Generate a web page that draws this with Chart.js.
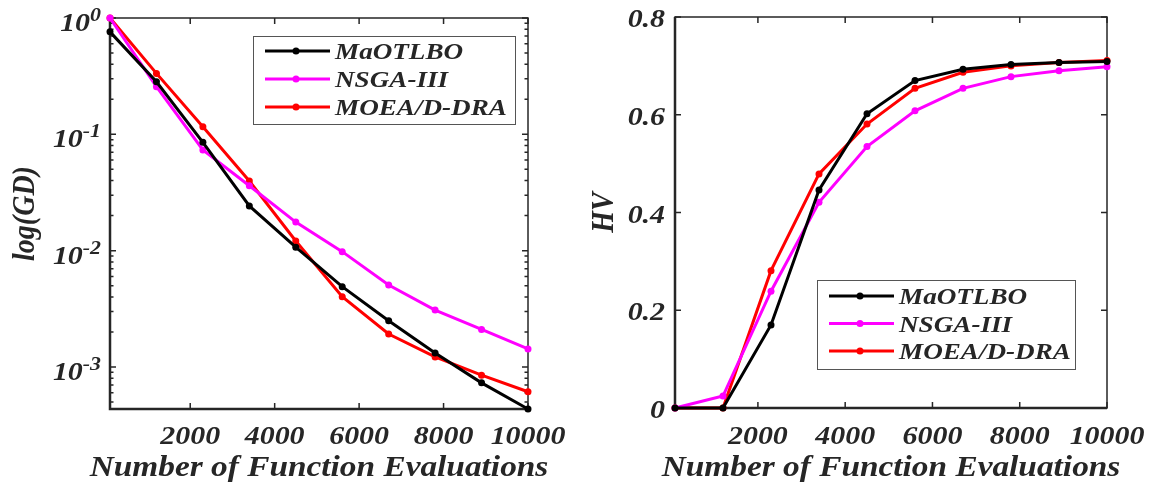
<!DOCTYPE html>
<html>
<head>
<meta charset="utf-8">
<script src="https://cdn.jsdelivr.net/npm/chart.js@4"></script>
<style>
  body { margin: 0; background: #fff; }
  #wrap { position: relative; width: 1149px; height: 484px; }
  .pane { position: absolute; top: 0; height: 484px; }
  #probe { position: absolute; left: 0; top: 0; font: italic bold 20px "Times New Roman", "Liberation Serif", Times; color: #fff; }
</style>
</head>
<body>
<span id="probe">MaOTLBO 0123456789</span>
<div id="wrap">
  <div class="pane" style="left:0;width:575px"><canvas id="gd"></canvas></div>
  <div class="pane" style="left:575px;width:574px"><canvas id="hv"></canvas></div>
</div>
<script>
// data
const evals = [100, 1200, 2300, 3400, 4500, 5600, 6700, 7800, 8900, 10000];
const names = ["MaOTLBO", "NSGA-III", "MOEA/D-DRA"];
const colors = ["#000000", "#ff00ff", "#ff0000"];

const gdMaOTLBO = [0.76, 0.283, 0.0853, 0.0242, 0.0107, 0.0049, 0.0025, 0.00132, 0.00073, 0.000435];
const gdNSGA3 = [1.0, 0.257, 0.0733, 0.0361, 0.0176, 0.0098, 0.00506, 0.00308, 0.0021, 0.00143];
const gdMOEAD = [1.0, 0.334, 0.116, 0.0397, 0.0121, 0.00401, 0.00192, 0.00122, 0.00085, 0.000612];

const hvMaOTLBO = [0, 0, 0.170, 0.446, 0.602, 0.670, 0.693, 0.703, 0.707, 0.709];
const hvNSGA3 = [0, 0.0245, 0.239, 0.421, 0.535, 0.608, 0.654, 0.678, 0.690, 0.698];
const hvMOEAD = [0, 0, 0.281, 0.479, 0.581, 0.654, 0.687, 0.700, 0.707, 0.711];

const xTicks = [2000, 4000, 6000, 8000, 10000];
const gdTickExps = [0, -1, -2, -3];
const hvTicks = [0, 0.2, 0.4, 0.6, 0.8];
const hvTickLabels = ["0", "0.2", "0.4", "0.6", "0.8"];

const FONT = '"Times New Roman", "Liberation Serif", Times';
const SX = 1.15; // the figure is slightly stretched sideways
const AX = "#262626";

function txt(ctx, s, x, y, size, align, sx, sy) {
    ctx.save();
    ctx.font = "italic bold " + size + "px " + FONT;
    ctx.fillStyle = AX;
    ctx.textBaseline = "alphabetic";
    ctx.textAlign = align || "left";
    ctx.translate(x, y);
    ctx.scale(sx || SX, sy || 1);
    ctx.fillText(s, 0, 0);
    ctx.restore();
}
function txtWidth(ctx, s, size) {
    ctx.save();
    ctx.font = "italic bold " + size + "px " + FONT;
    const w = ctx.measureText(s).width * SX;
    ctx.restore();
    return w;
}

function makeSets(series) {
    return series.map((vals, i) => ({
        label: names[i],
        data: evals.map((x, j) => ({ x: x, y: vals[j] })),
        borderColor: colors[i],
        backgroundColor: colors[i],
        borderWidth: 3,
        pointRadius: 3.5,
        pointHoverRadius: 3.5,
        pointBorderWidth: 0,
        tension: 0,
        clip: false,
    }));
}

// axes box, inward ticks, labels, titles and legend
const decor = {
    id: "decor",
    beforeDatasetsDraw(chart, args, o) {
        const ctx = chart.ctx, a = chart.chartArea;
        const xs = chart.scales.x, ys = chart.scales.y;
        ctx.save();
        ctx.strokeStyle = AX;
        ctx.lineWidth = 1.5;
        ctx.strokeRect(a.left, a.top, a.right - a.left, a.bottom - a.top);
        ctx.lineWidth = 2.5;
        ctx.beginPath();
        ctx.moveTo(a.left, a.top); ctx.lineTo(a.left, a.bottom); ctx.lineTo(a.right, a.bottom);
        ctx.stroke();
        ctx.lineWidth = 1.5;
        ctx.beginPath();
        xTicks.forEach(v => {
            const px = xs.getPixelForValue(v);
            ctx.moveTo(px, a.bottom); ctx.lineTo(px, a.bottom - 6);
            ctx.moveTo(px, a.top); ctx.lineTo(px, a.top + 6);
        });
        o.yTicks.forEach(t => {
            const py = ys.getPixelForValue(t.v);
            const len = t.minor ? 3.5 : 6;
            ctx.moveTo(a.left, py); ctx.lineTo(a.left + len, py);
            ctx.moveTo(a.right, py); ctx.lineTo(a.right - len, py);
        });
        ctx.stroke();
        ctx.restore();
    },
    afterDraw(chart, args, o) {
        const ctx = chart.ctx, a = chart.chartArea;
        const xs = chart.scales.x, ys = chart.scales.y;
        xTicks.forEach(v => txt(ctx, String(v), xs.getPixelForValue(v), 444, 26, "center"));
        o.yLabels(ctx, ys, a);
        txt(ctx, "Number of Function Evaluations", (a.left + a.right) / 2, 476, 29, "center");
        ctx.save();
        ctx.translate(o.yTitleX, (a.top + a.bottom) / 2);
        ctx.rotate(-Math.PI / 2);
        txt(ctx, o.yTitle, 0, 0, 28, "center", 1, SX);
        ctx.restore();
        // legend
        const L = o.legend;
        ctx.save();
        ctx.fillStyle = "#fff";
        ctx.fillRect(L.x, L.y, L.w, L.h);
        ctx.strokeStyle = "#555";
        ctx.lineWidth = 1;
        ctx.strokeRect(L.x + 0.5, L.y + 0.5, L.w, L.h);
        chart.data.datasets.forEach((d, i) => {
            const ry = L.y + L.row0 + i * L.dy;
            ctx.strokeStyle = d.borderColor;
            ctx.lineWidth = 3;
            ctx.beginPath();
            ctx.moveTo(L.x + 12, ry); ctx.lineTo(L.x + 77, ry);
            ctx.stroke();
            ctx.fillStyle = d.borderColor;
            ctx.beginPath();
            ctx.arc(L.x + 43, ry, 3.5, 0, Math.PI * 2);
            ctx.fill();
            txt(ctx, d.label, L.x + 82, ry + 8, 23.6, "left");
        });
        ctx.restore();
    },
};

const gdMin = 4.35e-4;
const gdYTicks = [];
for (let e = -4; e <= 0; e++) {
    for (let k = 1; k <= 9; k++) {
        const v = k * Math.pow(10, e);
        if (v >= gdMin && v <= 1.0000001) gdYTicks.push({ v: v, minor: k !== 1 });
    }
}

function baseOpts(xMin, xMax, yScale, pad, decorOpts) {
    return {
        responsive: true,
        maintainAspectRatio: false,
        animation: false,
        layout: { padding: pad },
        scales: {
            x: { type: "linear", min: xMin, max: xMax, display: false },
            y: Object.assign({ display: false }, yScale),
        },
        plugins: { legend: { display: false }, tooltip: { enabled: false }, decor: decorOpts },
    };
}

function build() {
    new Chart(document.getElementById("gd"), {
        type: "line",
        data: { datasets: makeSets([gdMaOTLBO, gdNSGA3, gdMOEAD]) },
        options: baseOpts(100, 10000, { type: "logarithmic", min: gdMin, max: 1 },
            { left: 110, right: 47, top: 18, bottom: 75 },
            {
                yTicks: gdYTicks,
                yTitle: "log(GD)",
                yTitleX: 34,
                yLabels(ctx, ys, a) {
                    gdTickExps.forEach(e => {
                        const py = ys.getPixelForValue(Math.pow(10, e));
                        const ex = String(e);
                        const we = txtWidth(ctx, ex, 19);
                        const right = 101;
                        txt(ctx, ex, right, py + 3, 19, "right");
                        txt(ctx, "10", right - we, py + 13, 26, "right");
                    });
                },
                legend: { x: 253, y: 36, w: 262, h: 88, row0: 15, dy: 28 },
            }),
        plugins: [decor],
    });

    new Chart(document.getElementById("hv"), {
        type: "line",
        data: { datasets: makeSets([hvMaOTLBO, hvNSGA3, hvMOEAD]) },
        options: baseOpts(100, 10000, { type: "linear", min: 0, max: 0.8 },
            { left: 100, right: 42, top: 17, bottom: 76 },
            {
                yTicks: hvTicks.map(v => ({ v: v, minor: false })),
                yTitle: "HV",
                yTitleX: 38,
                yLabels(ctx, ys, a) {
                    hvTicks.forEach((v, i) => {
                        txt(ctx, hvTickLabels[i], a.left - 10, ys.getPixelForValue(v) + 10, 26, "right");
                    });
                },
                legend: { x: 242, y: 280, w: 258, h: 89, row0: 16, dy: 27.5 },
            }),
        plugins: [decor],
    });
}

document.fonts.load('italic bold 26px "Times New Roman"').then(build, build);
</script>
</body>
</html>
